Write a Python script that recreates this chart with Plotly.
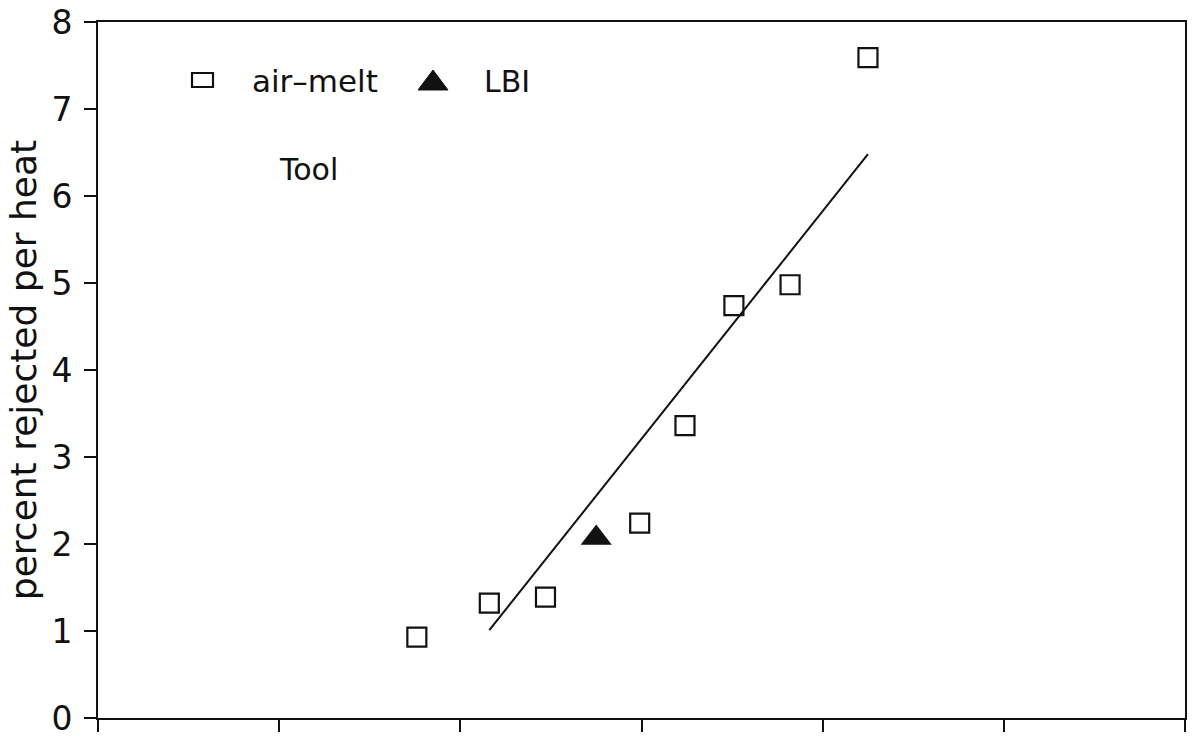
import plotly.graph_objects as go

# data
air_x = [1.76, 2.16, 2.47, 2.99, 3.24, 3.51, 3.82, 4.25]
air_y = [0.93, 1.32, 1.39, 2.24, 3.36, 4.74, 4.98, 7.59]
lbi_x = [2.75]
lbi_y = [2.07]
fit_x = [2.16, 4.25]
fit_y = [1.01, 6.48]
y_ticks = [0, 1, 2, 3, 4, 5, 6, 7, 8]
x_ticks = [0, 1, 2, 3, 4, 5, 6]
series_names = ["air\u2013melt", "LBI"]

FONT = "DejaVu Sans"
INK = "#111"

fig = go.Figure()
fig.add_trace(go.Scatter(
    x=fit_x, y=fit_y, mode="lines", line=dict(color=INK, width=2),
    showlegend=False, hoverinfo="skip", name="fit"))
fig.add_trace(go.Scatter(
    x=air_x, y=air_y, mode="markers", name=series_names[0], showlegend=False,
    marker=dict(symbol="square-open", size=19, color=INK,
                line=dict(color=INK, width=2.2))))
fig.add_trace(go.Scatter(
    x=lbi_x, y=lbi_y, mode="markers", name=series_names[1], showlegend=False,
    marker=dict(symbol="triangle-up", size=27, color=INK,
                line=dict(color=INK, width=0))))

# hand-drawn key (as in the original figure)
fig.add_shape(type="rect", xref="paper", yref="paper",
              x0=0.0865, x1=0.1058, y0=0.9066, y1=0.9267,
              line=dict(color=INK, width=2.2), fillcolor="rgba(0,0,0,0)")
fig.add_annotation(xref="paper", yref="paper", x=0.1398, y=0.9150,
                   xanchor="left", yanchor="middle", text=series_names[0],
                   showarrow=False, font=dict(family=FONT, size=31, color=INK))
fig.add_shape(type="path", xref="paper", yref="paper",
              path="M 0.2944 0.9023 L 0.3220 0.9023 L 0.3082 0.9310 Z",
              line=dict(color=INK, width=1), fillcolor=INK)
fig.add_annotation(xref="paper", yref="paper", x=0.3533, y=0.9150,
                   xanchor="left", yanchor="middle", text=series_names[1],
                   showarrow=False, font=dict(family=FONT, size=30, color=INK))

fig.add_annotation(x=1.16, y=6.31, text="Tool", showarrow=False,
                   font=dict(family=FONT, size=30, color=INK))

fig.update_layout(
    width=1199, height=740,
    margin=dict(l=98, r=14, t=22, b=22),
    paper_bgcolor="white", plot_bgcolor="white",
    font=dict(family=FONT, color=INK),
    showlegend=False,
    xaxis=dict(range=[0, 6], tickvals=x_ticks, showticklabels=False,
               ticks="outside", ticklen=12, tickwidth=2, tickcolor=INK,
               showline=True, linecolor=INK, linewidth=2, mirror=True,
               showgrid=False, zeroline=False, automargin=False),
    yaxis=dict(range=[0, 8], tickvals=y_ticks, ticks="outside", ticklen=12,
               tickwidth=2, tickcolor=INK, ticklabelstandoff=5,
               tickfont=dict(family=FONT, size=33, color=INK),
               showline=True, linecolor=INK, linewidth=2, mirror=True,
               showgrid=False, zeroline=False, automargin=False,
               title=dict(text="percent rejected per heat",
                          font=dict(family=FONT, size=36, color=INK),
                          standoff=4)),
)

fig.write_html("out.html")
